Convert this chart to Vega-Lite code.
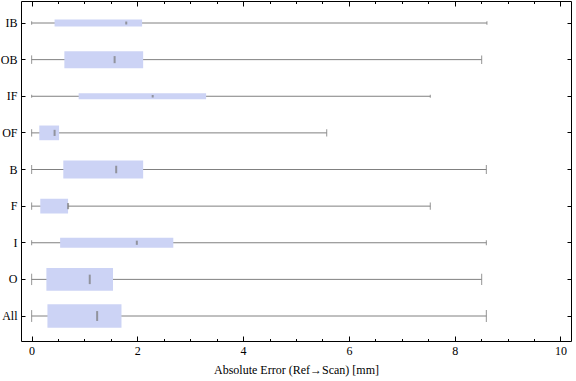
{
  "$schema": "https://vega.github.io/schema/vega-lite/v6.json",
  "width": 550,
  "height": 340,
  "autosize": "none",
  "padding": {"left": 21, "top": 1, "right": 5, "bottom": 40},
  "config": {
    "font": "Liberation Serif",
    "view": {"stroke": "black", "strokeWidth": 1},
    "axis": {
      "domain": false,
      "grid": false,
      "labelFont": "Liberation Serif",
      "labelFontSize": 12,
      "labelColor": "black",
      "tickColor": "black",
      "titleFont": "Liberation Serif",
      "titleFontSize": 12,
      "titleFontWeight": "normal",
      "titleColor": "black"
    }
  },
  "data": {
    "values": [
      {"cat": "IB", "lo": 0, "q1": 0.435, "med": 1.79, "q3": 2.09, "hi": 8.61, "n": 7},
      {"cat": "OB", "lo": 0, "q1": 0.62, "med": 1.57, "q3": 2.11, "hi": 8.51, "n": 17},
      {"cat": "IF", "lo": 0, "q1": 0.89, "med": 2.29, "q3": 3.3, "hi": 7.54, "n": 6},
      {"cat": "OF", "lo": 0, "q1": 0.146, "med": 0.435, "q3": 0.52, "hi": 5.58, "n": 14.7},
      {"cat": "B", "lo": 0, "q1": 0.6, "med": 1.6, "q3": 2.11, "hi": 8.6, "n": 18},
      {"cat": "F", "lo": 0, "q1": 0.165, "med": 0.69, "q3": 0.69, "hi": 7.54, "n": 14.7},
      {"cat": "I", "lo": 0, "q1": 0.54, "med": 1.99, "q3": 2.68, "hi": 8.6, "n": 10},
      {"cat": "O", "lo": 0, "q1": 0.28, "med": 1.1, "q3": 1.54, "hi": 8.51, "n": 22.7},
      {"cat": "All", "lo": 0, "q1": 0.3, "med": 1.24, "q3": 1.7, "hi": 8.6, "n": 23.7}
    ]
  },
  "resolve": {"axis": {"x": "independent", "y": "independent"}, "scale": {"size": "independent"}},
  "layer": [
    {
      "mark": {"type": "rule", "color": "#808080", "strokeWidth": 1},
      "encoding": {
        "x": {
          "field": "lo", "type": "quantitative",
          "scale": {"domain": [-0.2, 10.2], "nice": false, "zero": false},
          "axis": {
            "orient": "bottom",
            "title": "Absolute Error (Ref\u2192Scan) [mm]",
            "values": [0, 0.5, 1, 1.5, 2, 2.5, 3, 3.5, 4, 4.5, 5, 5.5, 6, 6.5, 7, 7.5, 8, 8.5, 9, 9.5, 10],
            "tickSize": {"condition": {"test": "datum.value % 2 === 0", "value": -5}, "value": -2.5},
            "labelExpr": "datum.value % 2 === 0 ? format(datum.value, 'd') : ''",
            "labelOverlap": false,
            "labelFlush": false,
            "labelPadding": 9,
            "titlePadding": 6
          }
        },
        "x2": {"field": "hi"},
        "y": {
          "field": "cat", "type": "nominal",
          "scale": {"domain": ["IB", "OB", "IF", "OF", "B", "F", "I", "O", "All"], "paddingInner": 0, "paddingOuter": 0.1416, "align": 0.356},
          "axis": {"orient": "left", "title": null, "tickSize": -4, "labelPadding": 8}
        }
      }
    },
    {
      "mark": {"type": "tick", "color": "#808080", "thickness": 1.2},
      "encoding": {
        "x": {
          "field": "lo", "type": "quantitative",
          "scale": {"domain": [-0.2, 10.2], "nice": false, "zero": false},
          "axis": {
            "orient": "top",
            "title": null,
            "labels": false,
            "values": [0, 0.5, 1, 1.5, 2, 2.5, 3, 3.5, 4, 4.5, 5, 5.5, 6, 6.5, 7, 7.5, 8, 8.5, 9, 9.5, 10],
            "tickSize": {"condition": {"test": "datum.value % 2 === 0", "value": -5}, "value": -2.5}
          }
        },
        "y": {
          "field": "cat", "type": "nominal",
          "scale": {"domain": ["IB", "OB", "IF", "OF", "B", "F", "I", "O", "All"], "paddingInner": 0, "paddingOuter": 0.1416, "align": 0.356},
          "axis": {"orient": "right", "title": null, "labels": false, "tickSize": -4}
        },
        "size": {"field": "n", "type": "quantitative", "scale": {"type": "linear", "domain": [0, 24], "range": [0, 12], "zero": true}, "legend": null}
      }
    },
    {
      "mark": {"type": "tick", "color": "#808080", "thickness": 1.2},
      "encoding": {
        "x": {"field": "hi", "type": "quantitative", "scale": {"domain": [-0.2, 10.2], "nice": false, "zero": false}, "axis": null},
        "y": {
          "field": "cat", "type": "nominal",
          "scale": {"domain": ["IB", "OB", "IF", "OF", "B", "F", "I", "O", "All"], "paddingInner": 0, "paddingOuter": 0.1416, "align": 0.356},
          "axis": null
        },
        "size": {"field": "n", "type": "quantitative", "scale": {"type": "linear", "domain": [0, 24], "range": [0, 12], "zero": true}, "legend": null}
      }
    },
    {
      "mark": {"type": "bar", "color": "#CCD3F5"},
      "encoding": {
        "x": {"field": "q1", "type": "quantitative", "scale": {"domain": [-0.2, 10.2], "nice": false, "zero": false}, "axis": null},
        "x2": {"field": "q3"},
        "y": {
          "field": "cat", "type": "nominal",
          "scale": {"domain": ["IB", "OB", "IF", "OF", "B", "F", "I", "O", "All"], "paddingInner": 0, "paddingOuter": 0.1416, "align": 0.356},
          "axis": null
        },
        "size": {"field": "n", "type": "quantitative", "scale": {"type": "linear", "domain": [0, 24], "range": [0, 24], "zero": true}, "legend": null}
      }
    },
    {
      "mark": {"type": "tick", "color": "#777777", "thickness": 2},
      "encoding": {
        "x": {"field": "med", "type": "quantitative", "scale": {"domain": [-0.2, 10.2], "nice": false, "zero": false}, "axis": null},
        "y": {
          "field": "cat", "type": "nominal",
          "scale": {"domain": ["IB", "OB", "IF", "OF", "B", "F", "I", "O", "All"], "paddingInner": 0, "paddingOuter": 0.1416, "align": 0.356},
          "axis": null
        },
        "size": {"field": "n", "type": "quantitative", "scale": {"type": "linear", "domain": [0, 24], "range": [0, 10], "zero": true}, "legend": null}
      }
    }
  ]
}
